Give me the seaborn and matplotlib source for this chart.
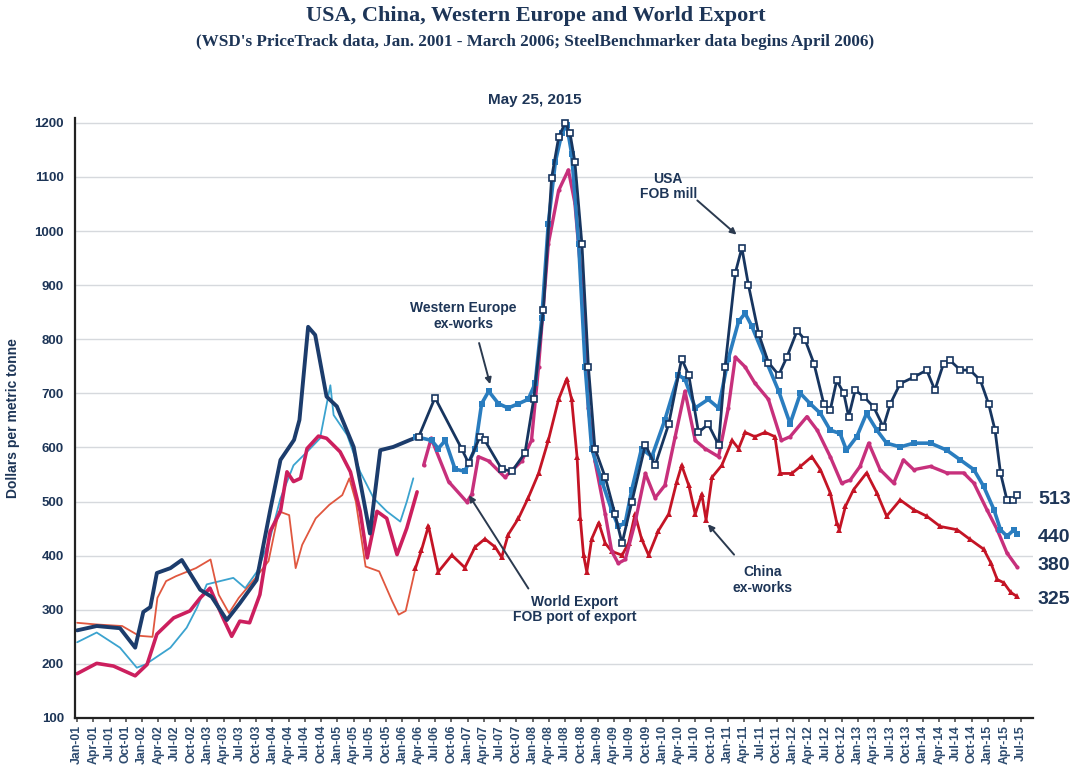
import numpy as np
import pandas as pd
import matplotlib
matplotlib.use("Agg")
import matplotlib.pyplot as plt
import seaborn as sns

# ---------------- DATA (months since Jan 2001, $/tonne) ----------------
# WSD PriceTrack period (plain lines)
usa_early_m = [0, 3.6, 7.9, 10.7, 12.2, 13.5, 14.7, 17.2, 19.3, 22.7, 24.8, 27.6, 30, 33.1, 35.6, 37.5,
               40, 41, 42.6, 43.9, 46, 47.9, 51, 54, 55.9, 58.3, 61.4, 63]
usa_early_v = [262, 270, 266, 230, 296, 305, 368, 377, 392, 337, 324, 281, 312, 355, 484, 577,
               614, 651, 823, 808, 694, 676, 601, 441, 595, 601, 614, 620]

weu_early_m = [0, 3.6, 7.9, 11, 12.6, 17.2, 20.2, 22.1, 23.9, 28.8, 31, 33.2, 35.6, 37.5, 39.9, 42.4,
               44.8, 46.7, 47.3, 49.8, 52.2, 54.7, 57.1, 59.6, 60.8, 62]
weu_early_v = [240, 258, 230, 193, 199, 230, 267, 304, 347, 359, 340, 371, 433, 506, 567, 592,
               617, 715, 660, 623, 555, 506, 482, 463, 500, 543]

wld_early_m = [0, 3.6, 6.7, 10.7, 12.9, 14.7, 17.8, 20.8, 22.7, 24.5, 26.9, 28.5, 30, 31.8, 33.7, 35.6,
               37.5, 38.7, 39.9, 41.2, 42.4, 44.5, 46, 48.5, 50.4, 52.2, 53.5, 55.3, 57.1, 59, 60.8, 62.7]
wld_early_v = [182, 201, 196, 178, 199, 255, 285, 298, 322, 340, 285, 251, 279, 276, 328, 445,
               482, 555, 537, 543, 598, 621, 617, 592, 555, 482, 396, 482, 469, 402, 451, 518]

chn_early_m = [0, 3.4, 8.3, 11.4, 13.9, 14.8, 16.4, 18.2, 21.9, 24.6, 25.5, 26.1, 28, 29.8, 32.9, 35.3,
               37.2, 39.1, 40.3, 41.5, 44, 46.5, 48.9, 50.2, 51.4, 53.2, 55.7, 58.1, 59.3, 60.6, 62.4]
chn_early_v = [276, 273, 270, 252, 250, 322, 353, 362, 377, 393, 353, 328, 294, 322, 359, 390,
               482, 475, 377, 420, 469, 494, 512, 543, 500, 380, 371, 316, 291, 298, 377]

# SteelBenchmarker period (lines with markers)
usa_m = [63, 66, 70.9, 72.2, 74.3, 75.2, 78.3, 80.2, 82.6, 84.2, 86, 87.5, 88.8, 90, 90.9, 91.8,
         93.1, 94.3, 95.5, 97.4, 99.2, 100.5, 102.3, 104.8, 106.6, 109.1, 111.5, 112.8, 114.6, 116.4,
         118.3, 119.5, 121.4, 122.6, 123.8, 125.7, 127.5, 129.4, 130.9, 132.8, 134.3, 135.9, 137.7,
         138.9, 140.1, 141.4, 142.3, 143.5, 145.1, 146.9, 148.7, 150, 151.8, 154.3, 156.7, 158.2,
         159.8, 161, 162.9, 164.7, 166.6, 168.1, 169.3, 170.3, 171.5, 172.7, 173.3]
usa_v = [620, 692, 598, 571, 620, 613, 560, 556, 590, 689, 855, 1098, 1173, 1200, 1181, 1128,
         976, 749, 598, 545, 477, 423, 499, 605, 567, 643, 764, 734, 628, 643,
         605, 749, 923, 969, 901, 810, 757, 734, 767, 816, 798, 755, 681,
         669, 724, 700, 657, 706, 694, 675, 638, 681, 718, 730, 743, 706,
         755, 761, 743, 743, 724, 681, 632, 553, 503, 503, 513]

weu_m = [62.5, 65.4, 66.6, 67.9, 69.7, 71.5, 73.4, 74.6, 75.9, 77.7, 79.5, 81.4, 83.2, 84.5, 85.7,
         86.9, 88.2, 89.4, 90.3, 91.2, 92.5, 93.7, 94.9, 96.8, 98.6, 99.8, 101.1, 102.3, 104.1, 106,
         108.4, 110.9, 112.1, 114, 116.4, 118.3, 120.1, 122, 123.2, 124.4, 126.9, 129.4, 131.5, 133.4,
         135.2, 137.1, 138.9, 140.7, 141.9, 143.8, 145.6, 147.5, 149.3, 151.8, 154.3, 157.4, 160.4,
         162.9, 165.4, 167.2, 169.1, 170.3, 171.5, 172.8, 173.3]
weu_v = [620, 613, 598, 613, 560, 556, 598, 681, 704, 681, 673, 681, 689, 719, 840,
         1014, 1128, 1181, 1196, 1143, 976, 749, 598, 537, 484, 454, 461, 522, 598, 583,
         651, 734, 726, 673, 689, 673, 764, 833, 848, 825, 764, 704, 644, 700,
         681, 663, 632, 626, 595, 620, 663, 632, 608, 601, 608, 608, 595,
         577, 559, 528, 485, 448, 436, 448, 440]

wld_m = [63.9, 65.3, 68.5, 71.9, 72.8, 74, 75.9, 78.9, 82, 83.8, 85.1, 86.9, 88.8, 90.6, 91.8, 93.1,
         94.3, 95.5, 97.4, 98.6, 99.8, 101.1, 102.9, 104.8, 106.6, 108.4, 110.3, 112.1, 114, 115.8,
         118.3, 120.1, 121.4, 123.2, 125, 127.5, 129.9, 131.5, 134.6, 136.5, 138.9, 141, 142.6, 144.4,
         146, 148.1, 150.6, 152.4, 154.3, 157.4, 160.4, 163.5, 165.4, 167.8, 169.7, 171.5, 173.3]
wld_v = [567, 617, 537, 499, 514, 583, 575, 545, 575, 613, 749, 976, 1075, 1113, 1052, 901,
         673, 575, 477, 408, 386, 393, 461, 552, 507, 530, 620, 704, 613, 598,
         583, 673, 767, 749, 719, 689, 613, 620, 657, 632, 583, 534, 540, 565,
         608, 559, 534, 577, 559, 565, 553, 553, 534, 485, 448, 405, 380]

chn_m = [62.4, 63.5, 64.8, 66.6, 69.1, 71.5, 73.4, 75.2, 77.1, 78.3, 79.5, 81.4, 83.2, 85.1, 86.9,
         88.8, 90.3, 91.2, 92.2, 92.8, 93.4, 94, 94.9, 96.2, 97.4, 98.6, 100.5, 101.7, 102.9, 104.1,
         105.4, 107.2, 109.1, 110.6, 111.5, 112.8, 114, 115.2, 116, 117.1, 118.9, 120.8, 122, 123.2,
         125, 126.9, 128.7, 129.7, 131.8, 133.4, 135.5, 137.1, 138.9, 140.1, 140.6, 141.7, 143.2,
         145.6, 147.5, 149.3, 151.8, 154.3, 156.7, 159.2, 162.3, 164.7, 167.2, 168.5, 169.7, 170.9,
         172.2, 173.3]
chn_v = [377, 410, 455, 370, 401, 378, 416, 431, 416, 397, 439, 469, 507, 552, 613,
         689, 727, 689, 583, 469, 401, 370, 431, 461, 423, 408, 401, 423, 477, 431,
         401, 446, 477, 537, 567, 530, 477, 514, 466, 545, 567, 613, 598, 628,
         620, 628, 620, 552, 552, 565, 583, 559, 516, 461, 448, 491, 522,
         553, 516, 473, 503, 485, 473, 454, 448, 430, 412, 387, 356, 350,
         332, 325]

end_labels = ["513", "440", "380", "325"]

# quarterly tick labels Jan-01 .. Jul-15
tick_pos = list(range(0, 175, 3))
tick_labels = [f"{['Jan', 'Apr', 'Jul', 'Oct'][(p // 3) % 4]}-{(1 + p // 12):02d}" for p in tick_pos]

# ---------------- STYLE ----------------
NAVY = "#1d3557"
sns.set_theme(style="whitegrid")
plt.rcParams["font.family"] = ["Liberation Sans", "DejaVu Sans"]

fig = plt.figure(figsize=(10.71, 7.82), dpi=100)
ax = fig.add_axes([75 / 1071, 1 - 718 / 782, 958 / 1071, 600 / 782])

# early plain lines
sns.lineplot(x=weu_early_m, y=weu_early_v, ax=ax, color="#3ba3cf", lw=1.3)
sns.lineplot(x=chn_early_m, y=chn_early_v, ax=ax, color="#e0573f", lw=1.3)
sns.lineplot(x=wld_early_m, y=wld_early_v, ax=ax, color="#cc1f5e", lw=2.6)
sns.lineplot(x=usa_early_m, y=usa_early_v, ax=ax, color="#1c3c6c", lw=2.8)

# SteelBenchmarker lines
sns.lineplot(x=chn_m, y=chn_v, ax=ax, color="#c41425", lw=2.0, marker="^", markersize=4,
             markeredgewidth=0)
sns.lineplot(x=wld_m, y=wld_v, ax=ax, color="#c7307c", lw=2.4, marker="o", markersize=3,
             markeredgewidth=0)
sns.lineplot(x=weu_m, y=weu_v, ax=ax, color="#2a7dbf", lw=2.6, marker="s", markersize=5,
             markeredgewidth=0)
sns.lineplot(x=usa_m, y=usa_v, ax=ax, color="#17355f", lw=2.0, marker="s", markersize=4.5,
             markerfacecolor="white", markeredgecolor="#17355f", markeredgewidth=1.2)

# axes
ax.set_xlim(-0.4, 176.3)
ax.set_ylim(100, 1209)
ax.set_yticks(range(100, 1201, 100))
ax.set_xticks(tick_pos)
ax.set_xticklabels(tick_labels, rotation=90, fontsize=8.8, fontweight="bold", color="#2c4a6e")
ax.tick_params(axis="y", labelsize=9.5, labelcolor=NAVY, length=0, pad=8)
for lab in ax.get_yticklabels():
    lab.set_fontweight("bold")
ax.tick_params(axis="x", length=3, color="#555555", pad=2, bottom=True)
ax.grid(axis="x", visible=False)
ax.grid(axis="y", color="#d6d9dd", lw=1)
ax.set_facecolor("white")
for side in ["top", "right"]:
    ax.spines[side].set_visible(False)
for side in ["left", "bottom"]:
    ax.spines[side].set_color("#222222")
    ax.spines[side].set_linewidth(1.6)
ax.set_xlabel("")
ax.set_ylabel("Dollars per metric tonne", fontsize=10, fontweight="bold", color=NAVY, labelpad=10)

# annotations
txt = dict(fontsize=10, fontweight="bold", color=NAVY, ha="center", va="center", linespacing=1.1)
arrow = dict(arrowstyle="-|>", color="#2b3a4f", lw=1.4, mutation_scale=9)
ax.text(71.2, 843, "Western Europe\nex-works", **txt)
ax.annotate("", xy=(76.3, 712), xytext=(74.0, 798), arrowprops=arrow)
ax.text(109, 1082, "USA\nFOB mill", **txt)
ax.annotate("", xy=(122.0, 990), xytext=(114.0, 1060), arrowprops=arrow)
ax.text(91.8, 300, "World Export\nFOB port of export", **txt)
ax.annotate("", xy=(72.0, 516), xytext=(83.5, 335), arrowprops=arrow)
ax.text(126.5, 355, "China\nex-works", **txt)
ax.annotate("", xy=(116.0, 462), xytext=(121.5, 398), arrowprops=arrow)

# end values
for lab, py in zip(end_labels, [499, 538, 566, 600]):
    fig.text(1038 / 1071, 1 - py / 782, lab, fontsize=14, fontweight="bold", color=NAVY,
             ha="left", va="center")

# titles
fig.text(0.5, 1 - 16 / 782, "USA, China, Western Europe and World Export", fontsize=16,
         fontweight="bold", color=NAVY, ha="center", va="center", family="Liberation Serif")
fig.text(0.5, 1 - 42 / 782,
         "(WSD's PriceTrack data, Jan. 2001 - March 2006; SteelBenchmarker data begins April 2006)",
         fontsize=12.3, fontweight="bold", color=NAVY, ha="center", va="center",
         family="Liberation Serif")
fig.text(535 / 1071, 1 - 100 / 782, "May 25, 2015", fontsize=11, fontweight="bold",
         color=NAVY, ha="center", va="center")

fig.savefig("out.png", dpi=100, facecolor="white")
plt.close(fig)
